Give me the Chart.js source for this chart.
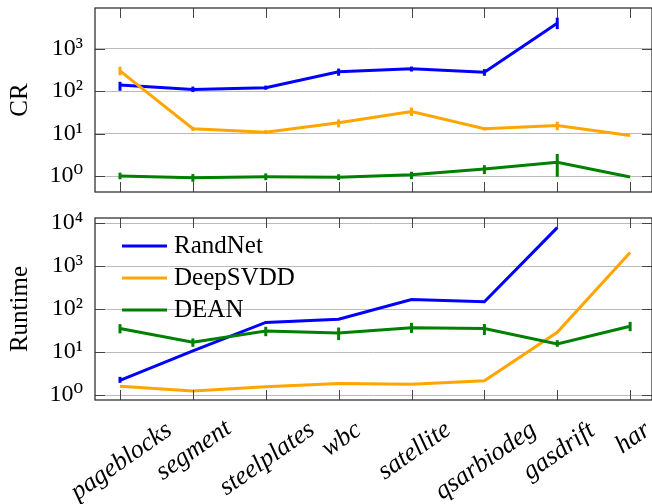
<!DOCTYPE html>
<html>
<head>
<meta charset="utf-8">
<script src="https://cdn.jsdelivr.net/npm/chart.js@4"></script>
<style>
  body { margin: 0; background: #fff; }
  canvas { display: block; }
</style>
</head>
<body>
<canvas id="crChart" width="652" height="200"></canvas>
<canvas id="runtimeChart" width="652" height="304"></canvas>
<script>
// x categories (data sets)
const dataSets = ['pageblocks', 'segment', 'steelplates', 'wbc', 'satellite', 'qsarbiodeg', 'gasdrift', 'har'];
const methods = ['RandNet', 'DeepSVDD', 'DEAN'];

// CR values + error bar bounds
const crRandNet = [140, 110, 120, 285, 335, 280, 4000, null];
const crRandNetLow = [102, 95, 108, 230, 290, 230, 2900, null];
const crRandNetHigh = [166, 128, 135, 340, 380, 330, 5400, null];
const crDeepSVDD = [300, 13, 10.8, 18, 33, 13, 15.5, 9];
const crDeepSVDDLow = [237, 11.5, 9.8, 14, 26, 11.8, 12, null];
const crDeepSVDDHigh = [375, 14.5, 12, 21.6, 41, 14.3, 19, null];
const crDEAN = [1.0, 0.91, 0.96, 0.93, 1.07, 1.46, 2.1, 0.95];
const crDEANLow = [0.84, 0.73, 0.8, 0.8, 0.84, 1.11, 0.96, null];
const crDEANHigh = [1.2, 1.11, 1.15, 1.1, 1.26, 1.8, 3.3, null];

// Runtime values + error bar bounds
const rtRandNet = [2.2, 10.7, 49, 58, 168, 148, 7900, null];
const rtRandNetLow = [1.93, null, null, null, null, null, null, null];
const rtRandNetHigh = [2.66, null, null, null, null, null, null, null];
const rtDeepSVDD = [1.6, 1.24, 1.56, 1.87, 1.8, 2.15, 29, 2090];
const rtDEAN = [35.5, 17, 31, 28, 37, 35.5, 15.4, 40];
const rtDEANLow = [27.3, 13.3, 23.5, 19, 28, 25, 13.3, 30.7];
const rtDEANHigh = [44.8, 20.8, 38.8, 37.4, 48, 45, 19, 50.6];

// y ticks
const crTicks = [1, 10, 100, 1000];
const crTickLabels = ['10⁰', '10¹', '10²', '10³'];
const rtTicks = [1, 10, 100, 1000, 10000];
const rtTickLabels = ['10⁰', '10¹', '10²', '10³', '10⁴'];

const lineColors = ['#0000ff', '#ffa500', '#008000'];
const serif = "'Liberation Serif', 'DejaVu Serif', serif";

Chart.defaults.font.family = serif;
Chart.defaults.color = '#000';

function toPoints(values) {
    return values.map((v, i) => ({ x: i, y: v }));
}

function makeDataset(label, idx, values, low, high) {
    return {
        label: label,
        data: toPoints(values),
        errLow: low,
        errHigh: high,
        borderColor: lineColors[idx],
        backgroundColor: lineColors[idx],
        borderWidth: 3,
        pointRadius: 0,
        tension: 0,
        order: 3 - idx
    };
}

// frame, inward ticks, error bars, legend and rotated x labels
const paperDecor = {
    id: 'paperDecor',
    afterDatasetsDraw(chart) {
        const ctx = chart.ctx;
        const yScale = chart.scales.y;
        const xScale = chart.scales.x;
        ctx.save();
        ctx.lineWidth = 3;
        chart.data.datasets.forEach(ds => {
            if (!ds.errLow) return;
            ctx.strokeStyle = ds.borderColor;
            ds.errLow.forEach((lo, i) => {
                const hi = ds.errHigh[i];
                if (lo == null || hi == null) return;
                const x = xScale.getPixelForValue(i);
                ctx.beginPath();
                ctx.moveTo(x, yScale.getPixelForValue(lo));
                ctx.lineTo(x, yScale.getPixelForValue(hi));
                ctx.stroke();
            });
        });
        ctx.restore();
    },
    afterDraw(chart, args, opts) {
        const ctx = chart.ctx;
        const area = chart.chartArea;
        const yScale = chart.scales.y;
        const xScale = chart.scales.x;
        ctx.save();
        // inward ticks
        ctx.strokeStyle = '#444';
        ctx.lineWidth = 1;
        ctx.beginPath();
        yScale.ticks.forEach(t => {
            const y = Math.round(yScale.getPixelForValue(t.value)) + 0.5;
            ctx.moveTo(area.left, y); ctx.lineTo(area.left + 10, y);
            ctx.moveTo(area.right, y); ctx.lineTo(area.right - 10, y);
        });
        dataSets.forEach((name, i) => {
            const x = Math.round(xScale.getPixelForValue(i)) + 0.5;
            ctx.moveTo(x, area.top); ctx.lineTo(x, area.top + 10);
            ctx.moveTo(x, area.bottom); ctx.lineTo(x, area.bottom - 10);
        });
        ctx.stroke();
        // frame
        ctx.strokeStyle = '#333';
        ctx.lineWidth = 1.3;
        ctx.strokeRect(area.left, area.top, area.right - area.left, area.bottom - area.top);

        if (opts.legend) {
            ctx.font = '25px ' + serif;
            ctx.textBaseline = 'middle';
            ctx.textAlign = 'left';
            chart.data.datasets.forEach((ds, i) => {
                const y = area.top + 28 + i * 32;
                ctx.strokeStyle = ds.borderColor;
                ctx.lineWidth = 3;
                ctx.beginPath();
                ctx.moveTo(area.left + 27, y);
                ctx.lineTo(area.left + 72, y);
                ctx.stroke();
                ctx.fillStyle = '#000';
                ctx.fillText(ds.label, area.left + 79, y);
            });
        }

        if (opts.xLabels) {
            const theta = 35 * Math.PI / 180;
            ctx.font = 'italic 26px ' + serif;
            ctx.fillStyle = '#000';
            ctx.textAlign = 'center';
            ctx.textBaseline = 'alphabetic';
            dataSets.forEach((name, i) => {
                const m = ctx.measureText(name);
                const w = m.actualBoundingBoxLeft + m.actualBoundingBoxRight;
                const a = m.actualBoundingBoxAscent;
                const d = m.actualBoundingBoxDescent;
                const boxH = w * Math.sin(theta) + (a + d) * Math.cos(theta);
                const cx = xScale.getPixelForValue(i) + 2;
                const cy = area.bottom + 19 + boxH / 2;
                ctx.save();
                ctx.translate(cx, cy);
                ctx.rotate(-theta);
                ctx.fillText(name, 0, (a - d) / 2);
                ctx.restore();
            });
        }
        ctx.restore();
    }
};

function makeOptions(yMin, yMax, ticks, tickLabels, title, padTop, padBottom, decor) {
    return {
        responsive: false,
        animation: false,
        layout: { padding: { top: padTop, bottom: padBottom, left: 0, right: 0 } },
        plugins: {
            legend: { display: false },
            tooltip: { enabled: false },
            paperDecor: decor
        },
        scales: {
            x: {
                type: 'linear',
                display: false,
                min: -0.343,
                max: 7.30
            },
            y: {
                type: 'logarithmic',
                min: yMin,
                max: yMax,
                afterBuildTicks: scale => {
                    scale.ticks = ticks.map(v => ({ value: v }));
                },
                afterFit: scale => {
                    scale.width = 95;
                    scale.paddingTop = 0;
                    scale.paddingBottom = 0;
                },
                border: { display: false },
                grid: { color: '#bbbbbb', lineWidth: 1, drawTicks: false },
                ticks: {
                    padding: 12,
                    font: { size: 24 },
                    callback: (value) => {
                        const k = ticks.indexOf(value);
                        return k >= 0 ? tickLabels[k] : '';
                    }
                },
                title: {
                    display: true,
                    text: title,
                    font: { size: 25 },
                    padding: { top: 5, bottom: 0 }
                }
            }
        }
    };
}

new Chart(document.getElementById('crChart'), {
    type: 'line',
    data: {
        datasets: [
            makeDataset(methods[0], 0, crRandNet, crRandNetLow, crRandNetHigh),
            makeDataset(methods[1], 1, crDeepSVDD, crDeepSVDDLow, crDeepSVDDHigh),
            makeDataset(methods[2], 2, crDEAN, crDEANLow, crDEANHigh)
        ]
    },
    options: makeOptions(0.42, 9100, crTicks, crTickLabels, 'CR', 8, 8, { legend: false, xLabels: false }),
    plugins: [paperDecor]
});

new Chart(document.getElementById('runtimeChart'), {
    type: 'line',
    data: {
        datasets: [
            makeDataset(methods[0], 0, rtRandNet, rtRandNetLow, rtRandNetHigh),
            makeDataset(methods[1], 1, rtDeepSVDD, null, null),
            makeDataset(methods[2], 2, rtDEAN, rtDEANLow, rtDEANHigh)
        ]
    },
    options: makeOptions(0.77, 13200, rtTicks, rtTickLabels, 'Runtime', 18, 104, { legend: true, xLabels: true }),
    plugins: [paperDecor]
});
</script>
</body>
</html>
